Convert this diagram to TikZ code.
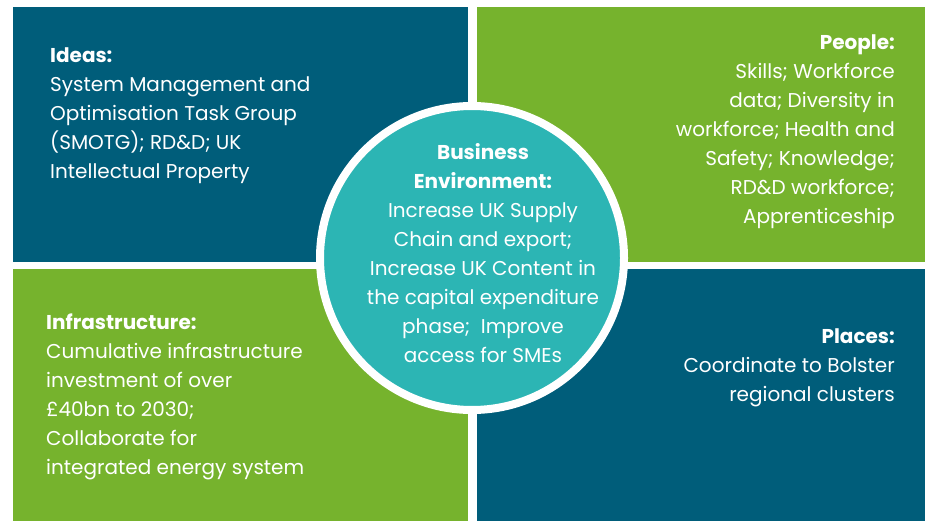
\documentclass[tikz,border=0pt]{standalone}
\usepackage{fontspec}
\setmainfont{Poppins}
\usetikzlibrary{positioning,calc}

\definecolor{tileblue}{RGB}{0,93,122}
\definecolor{tilegreen}{RGB}{118,179,45}
\definecolor{hubteal}{RGB}{44,181,180}

\begin{document}
\begin{tikzpicture}[x=1pt,y=-1pt,
  tile/.style={rectangle, inner sep=0pt, anchor=north west},
  words/.style={text=white, inner sep=0pt, font=\fontsize{20}{29}\selectfont}]
  % Page size
  \useasboundingbox (0,0) rectangle (925,521);

  % Draw the four tiles
  \node[tile, fill=tileblue, minimum width=455pt, minimum height=255pt] (ideas) at (13,7) {};
  \node[tile, fill=tilegreen, minimum width=448pt, minimum height=255pt] (people) at (477,7) {};
  \node[tile, fill=tilegreen, minimum width=455pt, minimum height=252pt] (infra) at (13,269) {};
  \node[tile, fill=tileblue, minimum width=448pt, minimum height=252pt] (places) at (477,269) {};

  % Circle in the middle
  \node[circle, fill=hubteal, draw=white, line width=8pt, minimum size=304pt, inner sep=0pt] (hub) at (472,258) {};

  % Labels
  \node[words, anchor=north west, align=left] (ideastext) at (50,48)
    {\textbf{Ideas:}\\System Management and\\Optimisation Task Group\\(SMOTG); RD\&D; UK\\Intellectual Property};
  \node[words, anchor=north east, align=right] (peopletext) at (895,35)
    {\textbf{People:}\\Skills; Workforce\\data; Diversity in\\workforce; Health and\\Safety; Knowledge;\\RD\&D workforce;\\Apprenticeship};
  \node[words, anchor=north west, align=left] (infratext) at (46,314)
    {\textbf{Infrastructure:}\\Cumulative infrastructure\\investment of over\\£40bn to 2030;\\Collaborate for\\integrated energy system};
  \node[words, anchor=north east, align=right] (placestext) at (895,328)
    {\textbf{Places:}\\Coordinate to Bolster\\regional clusters};
  \node[words, anchor=north, align=center] (hubtext) at (483,143)
    {\textbf{Business}\\\textbf{Environment:}\\Increase UK Supply\\Chain and export;\\Increase UK Content in\\the capital expenditure\\phase;~ Improve\\access for SMEs};
\end{tikzpicture}
\end{document}
